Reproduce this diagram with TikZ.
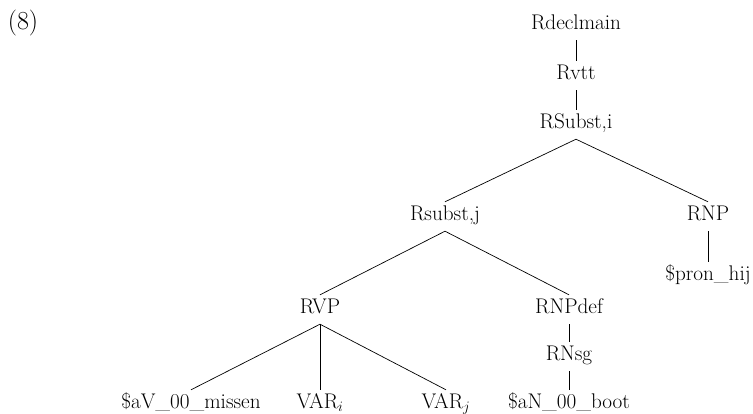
\documentclass[tikz,border=0pt]{standalone}
\begin{document}
\begin{tikzpicture}[x=1pt,y=1pt,
  lab/.style={font=\fontsize{21.2}{25}\selectfont, inner sep=0pt,
              text height=18pt, text depth=11pt, anchor=base},
  exnum/.style={font=\fontsize{26}{30}\selectfont, inner sep=0pt, anchor=base},
  branch/.style={line width=0.7pt}]
\useasboundingbox (0,0) rectangle (753,-413);

% example number
\node[exnum] (num) at (23,-29) {(8)};

% tree nodes
\node[lab] (decl)  at (576,-29)  {Rdeclmain};
\node[lab] (vtt)   at (576,-79)  {Rvtt};
\node[lab] (substi) at (576,-128) {RSubst,i};
\node[lab] (substj) at (445,-220) {Rsubst,j};
\node[lab] (rnp)   at (708,-220) {RNP};
\node[lab] (pron)  at (708,-280) {\$pron\_hij};
\node[lab] (rvp)   at (320,-313) {RVP};
\node[lab] (npdef) at (569,-313) {RNPdef};
\node[lab] (nsg)   at (569,-360) {RNsg};
\node[lab] (boot)  at (569,-408) {\$aN\_00\_boot};
\node[lab] (miss)  at (191,-408) {\$aV\_00\_missen};
\node[lab] (vari)  at (320,-408) {VAR$_i$};
\node[lab] (varj)  at (446,-408) {VAR$_j$};

% branches
\draw[branch] (decl.south) -- (vtt.north);
\draw[branch] (vtt.south) -- (substi.north);
\draw[branch] (substi.south) -- (substj.north);
\draw[branch] (substi.south) -- (rnp.north);
\draw[branch] (rnp.south) -- (pron.north);
\draw[branch] (substj.south) -- (rvp.north);
\draw[branch] (substj.south) -- (npdef.north);
\draw[branch] (npdef.south) -- (nsg.north);
\draw[branch] (nsg.south) -- (boot.north);
\draw[branch] (rvp.south) -- (miss.north);
\draw[branch] (rvp.south) -- (vari.north);
\draw[branch] (rvp.south) -- (varj.north);
\end{tikzpicture}
\end{document}
